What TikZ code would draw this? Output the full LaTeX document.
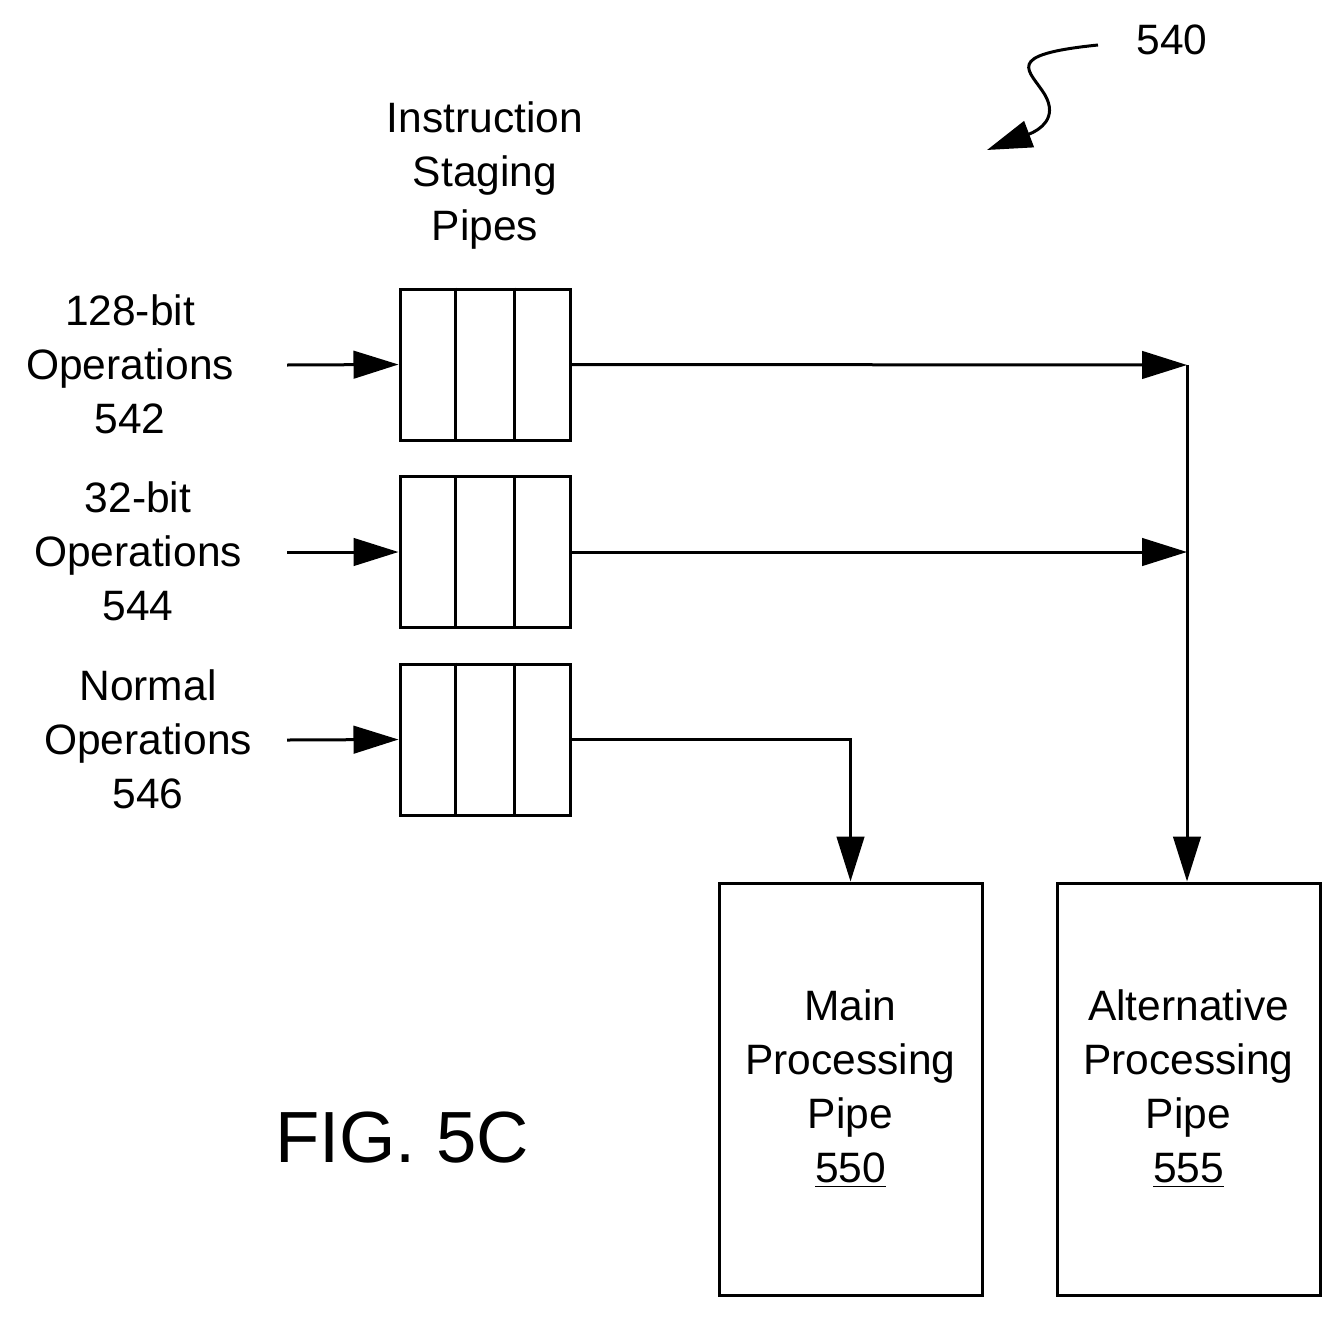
\documentclass[tikz,border=0pt]{standalone}
\usepackage{fontspec}
\setmainfont{Liberation Sans}
\usetikzlibrary{arrows.meta}
\tikzset{
  lbl/.style={align=center,font=\fontsize{17}{21.6}\selectfont,inner sep=0pt},
  stage/.style={draw,line width=1.2pt,minimum width=68pt,minimum height=60.4pt,inner sep=0pt},
  pipebox/.style={draw,line width=1.2pt,minimum width=105.2pt,minimum height=164.8pt,inner sep=0pt},
  arr/.style={line width=1.2pt,-{Triangle[length=18pt,width=11pt]}}
}
\begin{document}
\begin{tikzpicture}[x=0.4pt,y=-0.4pt]
  \useasboundingbox (0,0) rectangle (1343,1319);

  % staging pipes
  \node[stage] (p1) at (485,364.5) {};
  \node[stage] (p2) at (485,552) {};
  \node[stage] (p3) at (485,739.5) {};
  \foreach \p in {p1,p2,p3}{
    \draw[line width=1.2pt] ([xshift=22.8pt]\p.north west) -- ([xshift=22.8pt]\p.south west);
    \draw[line width=1.2pt] ([xshift=-22.8pt]\p.north east) -- ([xshift=-22.8pt]\p.south east);
  }
  \node[lbl] (head) at (485,176) {Instruction\\Staging\\Pipes};

  % inputs
  \node[lbl] (op1) at (130,364) {128-bit\\Operations\\542};
  \node[lbl] (op2) at (138,551) {32-bit\\Operations\\544};
  \node[lbl] (op3) at (148,739) {Normal\\Operations\\546};
  \coordinate (in1) at (287,365);
  \coordinate (in2) at (287,552);
  \coordinate (in3) at (287,740);
  \draw[arr] (in1) -- (p1.west);
  \draw[arr] (in2) -- (p2.west);
  \draw[arr] (in3) -- (p3.west);

  % processing pipes
  \node[pipebox,lbl] (main) at (850.5,1089) {Main\\Processing\\Pipe\\\underline{550}};
  \node[pipebox,lbl] (alt) at (1188.5,1089) {Alternative\\Processing\\Pipe\\\underline{555}};

  % routing
  \coordinate (j1) at (1187,365);
  \coordinate (j2) at (1187,552);
  \draw[arr] (p1.east) -- (j1);
  \draw[arr] (p2.east) -- (j2);
  \draw[arr] (j1) -- (alt.north -| j1);
  \draw[arr] (p3.east) -| (main.north);

  \node[font=\fontsize{29}{34}\selectfont,inner sep=0pt] (fig) at (402,1138) {FIG. 5C};

  % reference
  \node[lbl] (ref) at (1172,40) {540};
  \coordinate (rs) at (1098,45);
  \coordinate (re) at (987,150);
  \draw[arr] (rs) .. controls (1000,55) and (1030,70) .. (1045,95)
     .. controls (1058,118) and (1040,130) .. (re);
\end{tikzpicture}
\end{document}
